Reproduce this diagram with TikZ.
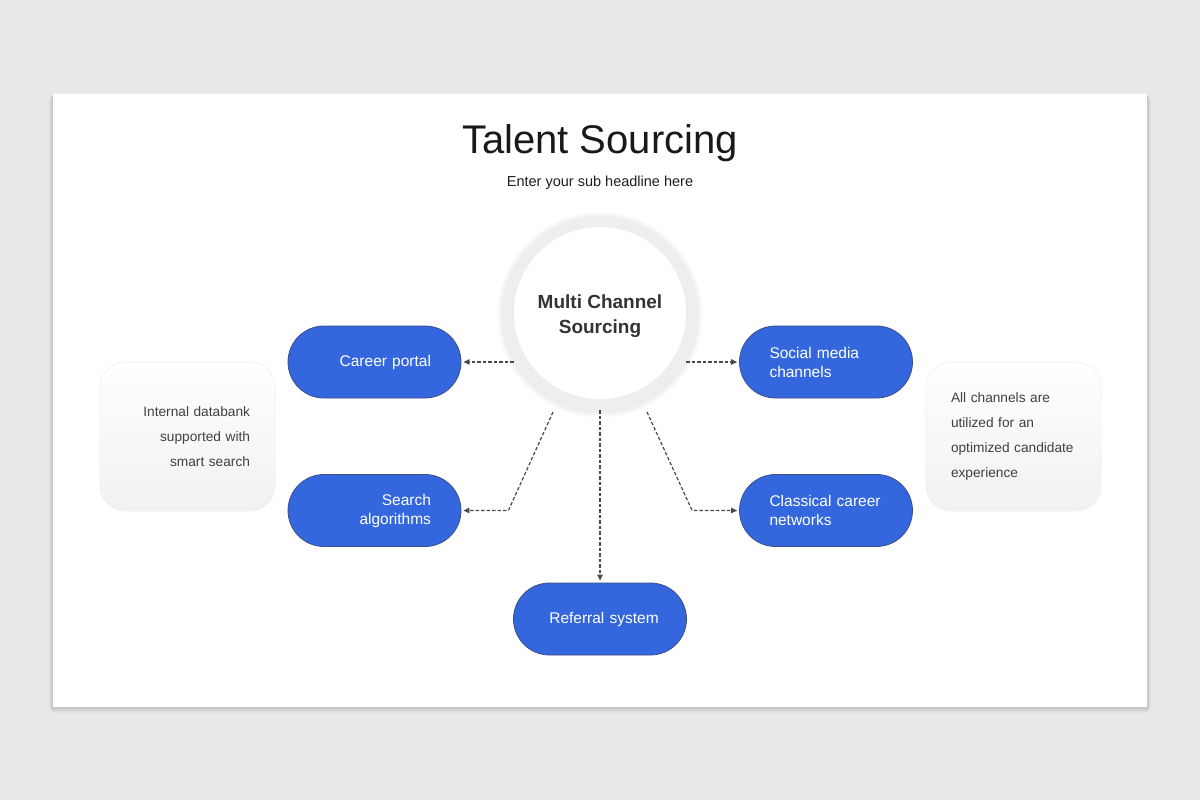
\documentclass[tikz,border=0pt]{standalone}
\usepackage{fontspec}
\setmainfont{Liberation Sans}
\usetikzlibrary{arrows.meta,calc}
\definecolor{bgc}{HTML}{E9E7E9}
\definecolor{pillblue}{HTML}{3467DD}
\definecolor{pillline}{HTML}{3C4F86}
\definecolor{arrc}{HTML}{4A4A4A}
\definecolor{ringc}{HTML}{EEEEEE}
\definecolor{sidebot}{HTML}{F1F1F1}
\definecolor{sideline}{HTML}{F0F0F0}
\tikzset{
  pill/.style={draw=pillline, line width=0.8pt, fill=pillblue, rounded corners=36pt,
    minimum width=173pt, minimum height=72pt, text=white, inner xsep=30pt, inner ysep=0pt,
    text width=113pt, font=\fontsize{15.5}{19}\selectfont},
  sidebox/.style={draw=sideline, line width=0.6pt, rounded corners=25pt, top color=white, bottom color=sidebot,
    minimum width=175pt, minimum height=149pt, inner xsep=25pt, text width=125pt,
    text=black!75, font=\fontsize{13.7}{25}\selectfont},
  arr/.style={draw=arrc, line width=1.2pt, dash pattern=on 3.5pt off 2pt, -{Stealth[length=6pt,width=5.5pt,inset=0pt]}}
}
\begin{document}
\begin{tikzpicture}[x=1pt,y=-1pt]
\fill[bgc] (0,0) rectangle (1200,800);
\useasboundingbox (0,0) rectangle (1200,800);
% card shadow
\foreach \d in {1,2,...,7}{
  \fill[black, opacity=0.018, rounded corners=\d pt] (53-\d*0.6,94+1) rectangle (1147+\d*0.6,707+\d*0.9);
}
% card
\node[fill=white, minimum width=1094pt, minimum height=613pt, inner sep=0pt] (card) at (600,400.5) {};
% titles
\node[text=black!90, font=\fontsize{40}{48}\selectfont] (title) at (600,143) {Talent Sourcing};
\node[text=black!88, font=\fontsize{14.5}{18}\selectfont] (sub) at (600,183) {Enter your sub headline here};
% hub shadow
\foreach \d in {1,2,...,6}{
  \fill[black, opacity=0.012] (600,315) circle (97+\d);
}
\node[circle, fill=ringc, minimum size=194pt, inner sep=0pt] (hub) at (600,313) {};
\node[circle, fill=white, minimum size=172pt, inner sep=0pt] (hubin) at (600,313) {};
\node[align=center, text=black!80, font=\bfseries\fontsize{19}{24.5}\selectfont] (hubtext) at (600,316) {Multi Channel\\Sourcing};
% pills
\node[pill, align=right] (career) at (374.5,362) {Career portal};
\node[pill, align=right] (search) at (374.5,510.5) {Search\\algorithms};
\node[pill, align=left] (social) at (826,362) {Social media\\channels};
\node[pill, align=left] (classic) at (826,510.5) {Classical career\\networks};
\node[pill, align=center, text width=130pt, inner xsep=21.5pt] (referral) at (600,619) {\hspace*{8pt}Referral system};
% side boxes
\node[sidebox, align=right] (leftbox) at (187.5,436.5) {Internal databank\\supported with\\smart search};
\node[sidebox, align=left] (rightbox) at (1013.5,436.5) {All channels are\\utilized for an\\optimized candidate\\experience};
% connectors
\coordinate (s1) at ($(hub.center)+(-47,99)$);
\coordinate (s2) at ($(hub.center)+(47,99)$);
\draw[arr] (hubin.west |- career.east) -- ([xshift=2pt]career.east);
\draw[arr] (hubin.east |- social.west) -- ([xshift=-2pt]social.west);
\draw[arr] (s1) -- ([xshift=47pt]search.east) -- ([xshift=2pt]search.east);
\draw[arr] (s2) -- ([xshift=-47pt]classic.west) -- ([xshift=-2pt]classic.west);
\draw[arr] (hub.south) -- ([yshift=2pt]referral.north);
\end{tikzpicture}
\end{document}
